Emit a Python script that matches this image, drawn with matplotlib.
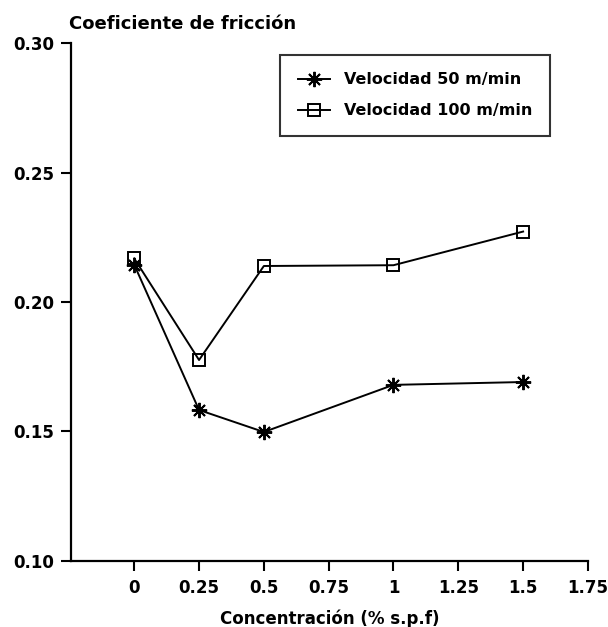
import matplotlib
matplotlib.use("Agg")
import matplotlib.pyplot as plt

plt.rcParams['font.family'] = ['DejaVu Sans']
plt.rcParams['font.weight'] = 'bold'

concentracion = [0, 0.25, 0.5, 1, 1.5]
vel_50 = [0.2144, 0.1583, 0.1498, 0.1680, 0.1691]
vel_100 = [0.2168, 0.1776, 0.2139, 0.2142, 0.2272]
series_labels = ["Velocidad 50 m/min", "Velocidad 100 m/min"]
xticks = [0, 0.25, 0.5, 0.75, 1, 1.25, 1.5, 1.75]
xticklabels = ["0", "0.25", "0.5", "0.75", "1", "1.25", "1.5", "1.75"]
yticks = [0.10, 0.15, 0.20, 0.25, 0.30]
yticklabels = ["0.10", "0.15", "0.20", "0.25", "0.30"]

fig = plt.figure(figsize=(6.08, 6.27), dpi=100)
ax = fig.add_axes([0.1163, 0.1053, 0.8507, 0.8261])

ax.plot(concentracion, vel_50, color='black', lw=1.4, marker=(8, 2, 0),
        markersize=11, markeredgewidth=1.4, label=series_labels[0])
ax.plot(concentracion, vel_100, color='black', lw=1.4, marker='s',
        markersize=8, markerfacecolor='none', markeredgewidth=1.4,
        label=series_labels[1])

ax.set_xlim(-0.245, 1.75)
ax.set_ylim(0.10, 0.30)
ax.set_xticks(xticks)
ax.set_xticklabels(xticklabels)
ax.set_yticks(yticks)
ax.set_yticklabels(yticklabels)

for s in ['top', 'right']:
    ax.spines[s].set_visible(False)
for s in ['left', 'bottom']:
    ax.spines[s].set_linewidth(1.6)

ax.tick_params(axis='both', direction='out', length=7, width=1.5,
               labelsize=12, colors='black')
ax.tick_params(axis='x', pad=6)
ax.tick_params(axis='y', pad=5)
for lbl in ax.get_xticklabels() + ax.get_yticklabels():
    lbl.set_fontweight('bold')

ax.set_xlabel("Concentración (% s.p.f)", fontsize=12, fontweight='bold',
              labelpad=9)
fig.text(0.114, 0.953, "Coeficiente de fricción", fontsize=13,
         fontweight='bold', ha='left', va='baseline')

leg = ax.legend(loc='upper left', bbox_to_anchor=(0.405, 0.977),
                frameon=True, fancybox=False, edgecolor='black',
                fontsize=11.5, handlelength=2.0, borderpad=1.1,
                labelspacing=1.0, handletextpad=0.9, borderaxespad=0)
leg.get_frame().set_linewidth(1.5)
for t in leg.get_texts():
    t.set_fontweight('bold')

fig.savefig("out.png", dpi=100)
